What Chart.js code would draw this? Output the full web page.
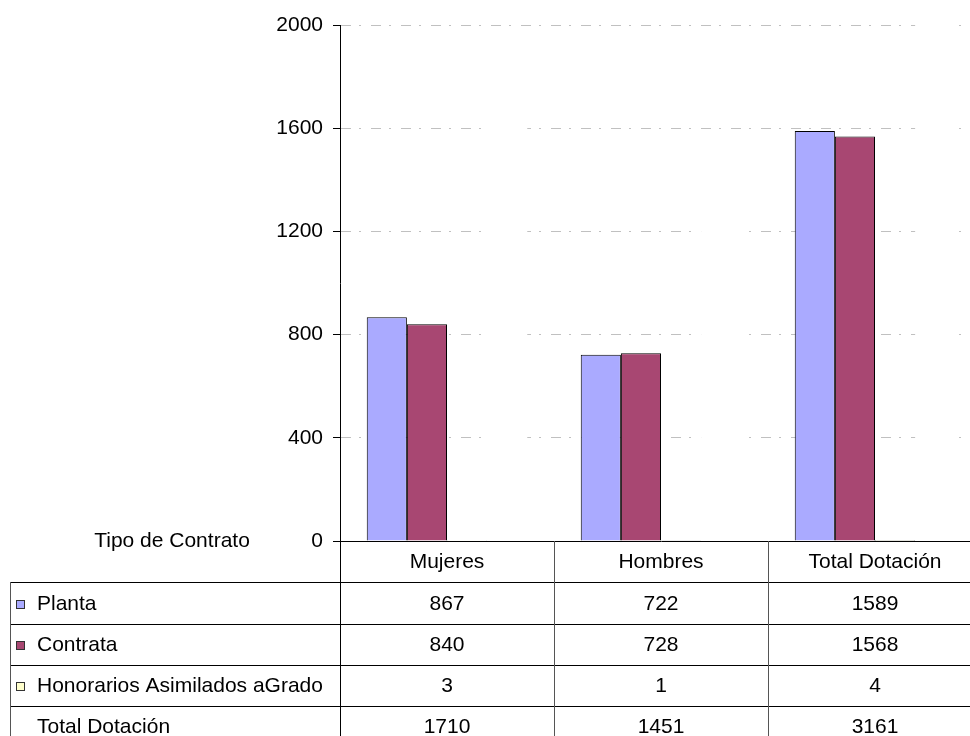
<!DOCTYPE html>
<html>
<head>
<meta charset="utf-8">
<script src="https://cdn.jsdelivr.net/npm/chart.js@4.4.0/dist/chart.umd.min.js"></script>
<style>
  body { margin: 0; background: #fff; overflow: hidden; }
  #wrap { width: 970px; height: 736px; overflow: hidden; }
  #box { width: 984px; height: 736px; }
</style>
</head>
<body>
<div id="wrap"><div id="box"><canvas id="chart"></canvas></div></div>
<script>
const categories = ["Mujeres", "Hombres", "Total Dotación"];
const planta = [867, 722, 1589];
const contrata = [840, 728, 1568];
const honorarios = [3, 1, 4];
const totalDotacion = [1710, 1451, 3161];
const yTicks = [0, 400, 800, 1200, 1600, 2000];

const FONT = "'Liberation Sans', Arial, sans-serif";
const FONT_SIZE = 21;

// filas de la tabla de datos bajo el grafico
const tableRows = [
  { label: "Planta", values: planta, swatch: "#aaaaff" },
  { label: "Contrata", values: contrata, swatch: "#a84772" },
  { label: "Honorarios Asimilados aGrado", values: honorarios, swatch: "#ffffcc" },
  { label: "Total Dotación", values: totalDotacion, swatch: null }
];

const dataTable = {
  id: "dataTable",
  afterDraw(chart) {
    const ctx = chart.ctx;
    const area = chart.chartArea;
    const x = chart.scales.x;
    const colW = (area.right - area.left) / categories.length;
    const rowH = 41;
    const top = area.bottom;
    const nRows = tableRows.length + 1;

    ctx.save();
    ctx.lineWidth = 1;
    ctx.font = FONT_SIZE + "px " + FONT;
    ctx.textBaseline = "middle";

    // lineas horizontales
    ctx.strokeStyle = "#000";
    for (let r = 1; r <= nRows; r++) {
      const y = Math.round(top + r * rowH + (r > 1 ? 1 : 0)) + 0.5;
      ctx.beginPath();
      ctx.moveTo(10, y);
      ctx.lineTo(area.right, y);
      ctx.stroke();
    }
    // lineas verticales
    for (let c = 0; c <= categories.length; c++) {
      const xx = Math.round(area.left + c * colW) + 0.5;
      ctx.strokeStyle = c === 0 ? "#000" : "#555";
      ctx.beginPath();
      ctx.moveTo(xx, top);
      ctx.lineTo(xx, top + nRows * rowH + 10);
      ctx.stroke();
    }
    ctx.strokeStyle = "#555";
    ctx.beginPath();
    ctx.moveTo(10.5, top + rowH);
    ctx.lineTo(10.5, top + nRows * rowH + 10);
    ctx.stroke();

    // encabezados
    ctx.fillStyle = "#000";
    ctx.textAlign = "center";
    categories.forEach((cat, i) => {
      ctx.fillText(cat, x.getPixelForValue(i), top + rowH / 2 + 1);
    });
    ctx.fillText("Tipo de Contrato", 172, top);

    // filas
    tableRows.forEach((row, r) => {
      const cy = top + (r + 1.5) * rowH + 2;
      if (row.swatch) {
        ctx.fillStyle = row.swatch;
        ctx.fillRect(16, Math.round(cy - 5), 9, 9);
        ctx.strokeStyle = "#333";
        ctx.strokeRect(16.5, Math.round(cy - 5) + 0.5, 8, 8);
      }
      ctx.fillStyle = "#000";
      ctx.textAlign = "left";
      ctx.fillText(row.label, 37, cy);
      ctx.textAlign = "center";
      row.values.forEach((v, i) => {
        ctx.fillText(String(v), x.getPixelForValue(i), cy);
      });
    });
    ctx.restore();
  }
};

new Chart(document.getElementById("chart"), {
  type: "bar",
  data: {
    labels: categories,
    datasets: [
      { label: "Planta", data: planta, backgroundColor: "#aaaaff", borderColor: "#000", borderWidth: 1 },
      { label: "Contrata", data: contrata, backgroundColor: "#a84772", borderColor: "#000", borderWidth: 1 },
      { label: "Honorarios Asimilados aGrado", data: honorarios, backgroundColor: "#ffffcc", borderColor: "#000", borderWidth: 1 },
      { label: "Total Dotación", data: totalDotacion, backgroundColor: "#fff", borderWidth: 0 }
    ]
  },
  options: {
    responsive: true,
    maintainAspectRatio: false,
    animation: false,
    events: [],
    categoryPercentage: 0.75,
    barPercentage: 1.0,
    layout: { padding: { left: 0, top: 25, right: 2, bottom: 195 } },
    plugins: {
      legend: { display: false },
      tooltip: { enabled: false }
    },
    scales: {
      x: {
        ticks: { display: false },
        grid: { display: false },
        border: { display: true, color: "#000", width: 1 },
        afterFit(s) { s.height = 0; }
      },
      y: {
        min: 0,
        max: 2000,
        afterBuildTicks(s) { s.ticks = yTicks.map(v => ({ value: v })); },
        afterFit(s) { s.width = 340; },
        ticks: {
          color: "#000",
          font: { family: FONT, size: FONT_SIZE },
          padding: 10,
          callback: v => String(v)
        },
        grid: {
          color: "#c0c0c0",
          tickColor: "#000",
          tickLength: 7,
          tickBorderDash: []
        },
        border: { display: true, color: "#000", width: 1, dash: [10, 8, 2, 10] }
      }
    }
  },
  plugins: [dataTable]
});
</script>
</body>
</html>
